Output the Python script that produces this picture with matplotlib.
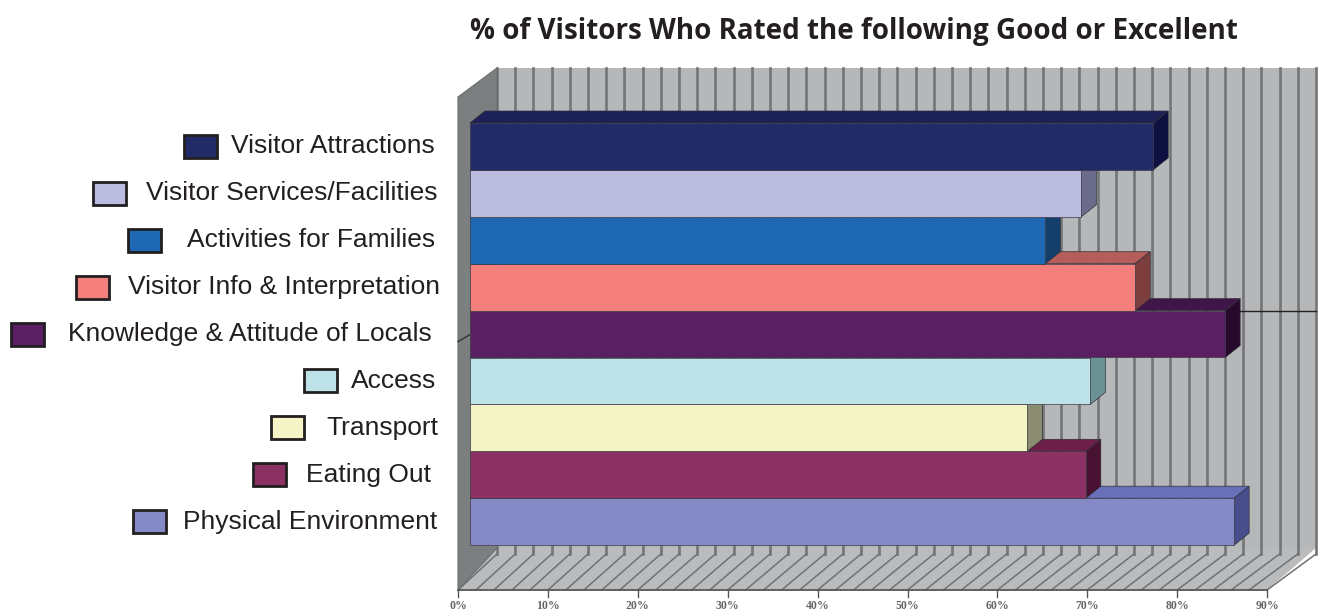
import matplotlib.pyplot as plt
from matplotlib.patches import Polygon, Rectangle
import numpy as np

# ratings, top to bottom
categories = ["Visitor Attractions", "Visitor Services/Facilities", "Activities for Families",
              "Visitor Info & Interpretation", "Knowledge & Attitude of Locals", "Access",
              "Transport", "Eating Out", "Physical Environment"]
values = [76, 68, 64, 74, 84, 69, 62, 68.5, 85]
ticks = [0, 10, 20, 30, 40, 50, 60, 70, 80, 90]
tick_labels = ["0%", "10%", "20%", "30%", "40%", "50%", "60%", "70%", "80%", "90%"]

front = ["#232a68", "#bbbbdf", "#1f68b3", "#f47f7d", "#5a1f62", "#bde3e8", "#f4f4c6", "#8b3163", "#8589c6"]
top = ["#1c2157", "#9d9dc2", "#174f88", "#b55d5a", "#40164a", "#95b5b8", "#b8b892", "#6c2049", "#6870b9"]
side = ["#0d1040", "#6b6b8c", "#143f6a", "#7d3f3d", "#26092d", "#6a9294", "#8b8c70", "#4a1232", "#484e8c"]

# legend layout (pixels): square left edge, text right edge
sq_left = [184, 93, 128, 76, 11, 304, 271, 253, 133]
txt_right = [435, 438, 435, 440, 432, 436, 438, 431, 437]

W, H = 1319, 613
S = 8.99      # pixels per percent along the front edge
X0 = 458      # pixel of 0% on the front edge of the floor

fig = plt.figure(figsize=(W / 100, H / 100), dpi=100)
ax = fig.add_axes([0, 0, 1, 1])
ax.set_xlim(-X0 / S, (W - X0) / S)
ax.set_ylim(H, 0)
ax.axis("off")

# chart box: y in pixels, x in percent
wall_top, floor_back, floor_front = 68, 548, 590
back_dx = 39 / S
back_k = 9.1 / S


def back(v):
    return back_dx + v * back_k


# back wall with 2% gridlines
ax.add_patch(Polygon([(back(0), wall_top), (back(90), wall_top), (back(90), floor_back), (back(0), floor_back)],
                     closed=True, fc="#b5b7b8", ec="none", zorder=1))
for v in np.arange(0, 91, 2):
    ax.plot([back(v), back(v)], [wall_top, floor_back + 6], color="#737576", lw=1.9, zorder=2)

# floor with slanted hatch lines
ax.add_patch(Polygon([(0, floor_front), (90, floor_front), (back(90), floor_back), (back(0), floor_back)],
                     closed=True, fc="#babbbc", ec="none", zorder=1))
for v in np.arange(0, 91, 2):
    ax.plot([back(v), v], [floor_back + 6, floor_front], color="#6f7172", lw=1.1, zorder=2)
ax.plot([0, 90], [floor_front, floor_front], color="#555759", lw=1.3, zorder=3)

# left side wall
ax.add_patch(Polygon([(0, 97), (back(0), wall_top), (back(0), floor_back), (0, floor_front)],
                     closed=True, fc="#7b7f80", ec="#6a6e6f", lw=0.8, zorder=3))

# ticks and tick labels along the front edge
for v, lab in zip(ticks, tick_labels):
    ax.plot([v, v], [floor_front, floor_front + 7], color="#555759", lw=1.0, zorder=3)
    ax.text(v, floor_front + 16, lab, ha="center", va="center", fontsize=8.5,
            family="Liberation Serif", fontweight="bold", color="#666666", zorder=3)

# stray line at the top edge of the Knowledge bar
bar_top0 = 123
bar_h = 46.9
bar_x0 = 12 / S
dx, dy = 15 / S, 12
k_top = bar_top0 + 4 * bar_h
ax.plot([bar_x0 + values[4] + dx, back(90)], [k_top, k_top], color="#222", lw=1.0, zorder=2)
ax.plot([0, bar_x0], [k_top + 31, k_top + 24], color="#333", lw=1.0, zorder=4)

# 3D bars, drawn from the bottom one upward
n = len(values)
centers = [bar_top0 + bar_h * (i + 0.5) for i in range(n)]
for i in reversed(range(n)):
    v = values[i]
    t = bar_top0 + bar_h * i
    b = t + bar_h
    z = 10 + (n - i) * 3
    ax.add_patch(Polygon([(bar_x0, t), (bar_x0 + v, t), (bar_x0 + v + dx, t - dy), (bar_x0 + dx, t - dy)],
                         closed=True, fc=top[i], ec="#30303a", lw=0.5, zorder=z))
    ax.add_patch(Polygon([(bar_x0 + v, t), (bar_x0 + v + dx, t - dy), (bar_x0 + v + dx, b - dy), (bar_x0 + v, b)],
                         closed=True, fc=side[i], ec="#30303a", lw=0.5, zorder=z + 1))
    ax.barh(centers[i], v, left=bar_x0, height=bar_h, color=front[i], edgecolor="#3a3a44",
            linewidth=0.5, zorder=z + 2)

# labels on the left and title, in pixel coordinates
lab = fig.add_axes([0, 0, 1, 1])
lab.set_xlim(0, W)
lab.set_ylim(H, 0)
lab.axis("off")
lab.patch.set_alpha(0)

for i, name in enumerate(categories):
    c = centers[i]
    lab.add_patch(Rectangle((sq_left[i], c - 11.5), 33, 23, fc=front[i], ec="#231f20", lw=2.0))
    lab.text(txt_right[i], c, name, ha="right", va="center", fontsize=19,
             family="Liberation Sans", color="#231f20")

lab.text(854, 31, "% of Visitors Who Rated the following Good or Excellent", ha="center", va="center",
         fontsize=20, fontweight="bold", family="Open Sans", color="#231f20")

fig.savefig("out.png", dpi=100)
